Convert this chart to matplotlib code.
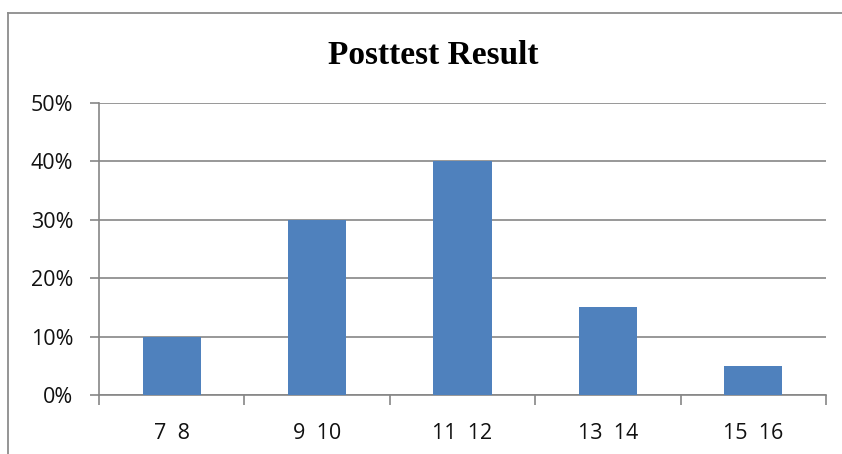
import matplotlib
matplotlib.use("Agg")
import matplotlib.pyplot as plt
from matplotlib.lines import Line2D
from matplotlib.ticker import PercentFormatter, MultipleLocator

categories = ["7  8", "9  10", "11  12", "13  14", "15  16"]
shares = [10, 30, 40, 15, 5]  # percent of students

bar_color = "#4F81BD"
grid_color = "#868686"

fig = plt.figure(figsize=(8.42, 4.54), dpi=100)
fig.patch.set_facecolor("white")

# chart-area frame: left and top edges only (the rest runs off the canvas)
x0, y0 = 7.5 / 842, 1 - 12.5 / 454
fig.add_artist(Line2D([x0, x0], [0, y0], transform=fig.transFigure,
                      color="#8C8C8C", linewidth=1.3))
fig.add_artist(Line2D([x0, 1], [y0, y0], transform=fig.transFigure,
                      color="#8C8C8C", linewidth=1.3))

ax = fig.add_axes([99 / 842, 1 - 395 / 454, (826 - 99) / 842, (395 - 103) / 454])

x = list(range(len(categories)))
ax.bar(x, shares, width=0.4, color=bar_color, zorder=3)

ax.set_xlim(-0.5, len(categories) - 0.5)
ax.set_ylim(0, 50)
ax.yaxis.set_major_locator(MultipleLocator(10))
ax.yaxis.set_major_formatter(PercentFormatter(decimals=0))
ax.grid(axis="y", color=grid_color, linewidth=1.2, zorder=0)

ax.set_xticks([i - 0.5 for i in range(len(categories) + 1)], minor=False)
ax.set_xticklabels([])
ax.set_xticks(x, minor=True)
ax.set_xticklabels(categories, minor=True)
ax.tick_params(axis="x", which="major", direction="out", length=7,
               width=1.2, color=grid_color)
ax.tick_params(axis="x", which="minor", length=0, pad=20)
ax.tick_params(axis="y", direction="out", length=6.5, width=1.2,
               color=grid_color, pad=12)

for lbl in ax.get_xticklabels(minor=True) + ax.get_yticklabels():
    lbl.set_fontfamily("Open Sans")
    lbl.set_fontsize(15.5)
    lbl.set_color("#111111")

for side in ("top", "right"):
    ax.spines[side].set_visible(False)
for side in ("left", "bottom"):
    ax.spines[side].set_color(grid_color)
    ax.spines[side].set_linewidth(1.2)

fig.text(433 / 842, 1 - 56 / 454, "Posttest Result", ha="center", va="center",
         fontfamily="Liberation Serif", fontweight="bold", fontsize=24,
         color="black")

fig.savefig("out.png", dpi=100, facecolor="white")
